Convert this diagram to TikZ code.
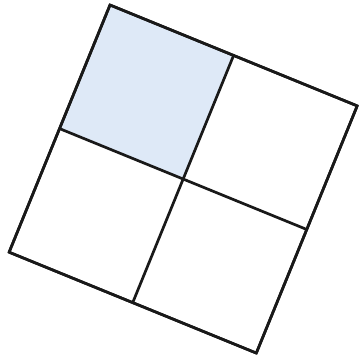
\documentclass[tikz,border=0pt]{standalone}
\usetikzlibrary{positioning}
\definecolor{cellblue}{RGB}{222,233,247}

\begin{document}
\begin{tikzpicture}[
      x=1pt, y=-1pt,
      gridline/.style={draw=black!90, line width=2.7pt},
      shaded/.style={fill=cellblue}
    ]
    \useasboundingbox (0,0) rectangle (359,358);
    \begin{scope}[shift={(110,5)}, rotate=-22.2]
      \def\side{133.5}
      \fill[shaded] (0,0) rectangle (\side,\side);
      \foreach \i in {0,1,2} {
        \draw[gridline] (0,\i*\side) -- (2*\side,\i*\side);
        \draw[gridline] (\i*\side,0) -- (\i*\side,2*\side);
      }
      \draw[gridline] (0,0) rectangle (2*\side,2*\side);
    \end{scope}
  \end{tikzpicture}
\end{document}
